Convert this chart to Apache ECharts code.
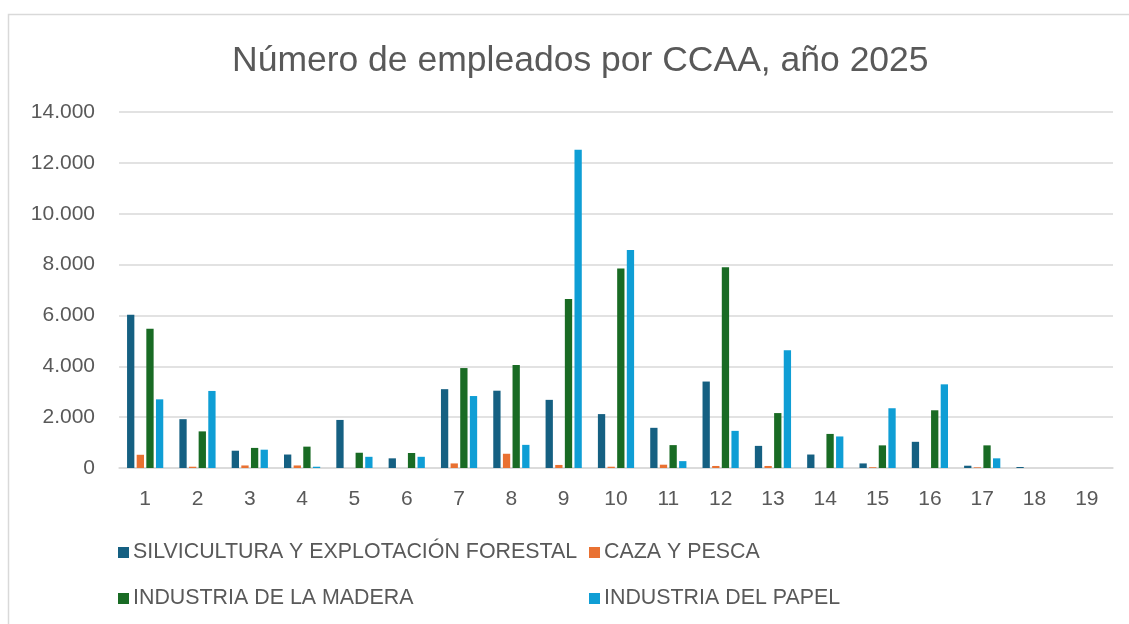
<!DOCTYPE html>
<html>
<head>
<meta charset="utf-8">
<script src="https://cdn.jsdelivr.net/npm/echarts@6/dist/echarts.min.js"></script>
<style>html,body{margin:0;padding:0;background:#fff;}#c{width:1129px;height:624px;}</style>
</head>
<body>
<div id="c"></div>
<script>
const categories = ['1','2','3','4','5','6','7','8','9','10','11','12','13','14','15','16','17','18','19'];
const silvicultura = [6030, 1920, 680, 530, 1890, 380, 3100, 3040, 2680, 2120, 1580, 3400, 870, 530, 180, 1030, 90, 40, 0];
const cazaPesca   = [520, 50, 100, 100, 0, 0, 180, 560, 120, 50, 130, 80, 80, 0, 30, 0, 25, 0, 0];
const madera      = [5480, 1440, 790, 840, 600, 590, 3930, 4050, 6650, 7850, 900, 7890, 2160, 1340, 890, 2270, 890, 0, 0];
const papel       = [2700, 3030, 720, 50, 440, 440, 2830, 910, 12520, 8570, 270, 1460, 4630, 1240, 2350, 3290, 380, 0, 0];
const seriesNames = ['SILVICULTURA Y EXPLOTACIÓN FORESTAL', 'CAZA Y PESCA', 'INDUSTRIA DE LA MADERA', 'INDUSTRIA DEL PAPEL'];
const yTicks = [0, 2000, 4000, 6000, 8000, 10000, 12000, 14000];

const colors = ['#156082', '#E97132', '#196B24', '#0F9ED5'];
const font = '"Liberation Sans", Arial, sans-serif';
const txt = '#595959';

const chart = echarts.init(document.getElementById('c'), null, {renderer: 'canvas'});
const fmt = v => String(v).replace(/\B(?=(\d{3})+(?!\d))/g, '.');
const dataSets = [silvicultura, cazaPesca, madera, papel];

chart.setOption({
  animation: false,
  backgroundColor: '#fff',
  graphic: [{
    type: 'rect', left: 6, top: 12, shape: {width: 1140, height: 640},
    style: {fill: 'none', stroke: '#d9d9d9', lineWidth: 1.5}, silent: true, z: -1
  }],
  title: {
    text: 'Número de empleados por CCAA, año 2025',
    left: 227, top: 38,
    textStyle: {fontFamily: font, fontSize: 35.5, fontWeight: 'normal', color: txt}
  },
  legend: [{
    orient: 'vertical', left: 113, top: 537, itemGap: 25,
    itemWidth: 11, itemHeight: 11, icon: 'rect',
    data: [seriesNames[0], seriesNames[2]],
    textStyle: {fontFamily: font, fontSize: 21.4, color: txt, padding: [0,0,0,-1]}
  }, {
    orient: 'vertical', left: 584, top: 537, itemGap: 25,
    itemWidth: 11, itemHeight: 11, icon: 'rect',
    data: [seriesNames[1], seriesNames[3]],
    textStyle: {fontFamily: font, fontSize: 21.4, color: txt, padding: [0,0,0,-1]}
  }],
  grid: {left: 119, right: 16, top: 112, bottom: 156, containLabel: false},
  xAxis: {
    type: 'category', data: categories,
    axisLine: {lineStyle: {color: '#d9d9d9', width: 1.5}},
    axisTick: {show: false},
    axisLabel: {fontFamily: font, fontSize: 21, color: txt, margin: 21}
  },
  yAxis: {
    type: 'value', min: yTicks[0], max: yTicks[yTicks.length-1], interval: 2000,
    axisLine: {show: false}, axisTick: {show: false},
    splitLine: {lineStyle: {color: '#d9d9d9', width: 1.5}},
    axisLabel: {fontFamily: font, fontSize: 21, color: txt, margin: 24, formatter: fmt}
  },
  series: seriesNames.map((n, i) => ({
    name: n, type: 'bar', data: dataSets[i],
    barWidth: 7.3, barGap: '32%',
    itemStyle: {color: colors[i]}
  }))
});
</script>
</body>
</html>
